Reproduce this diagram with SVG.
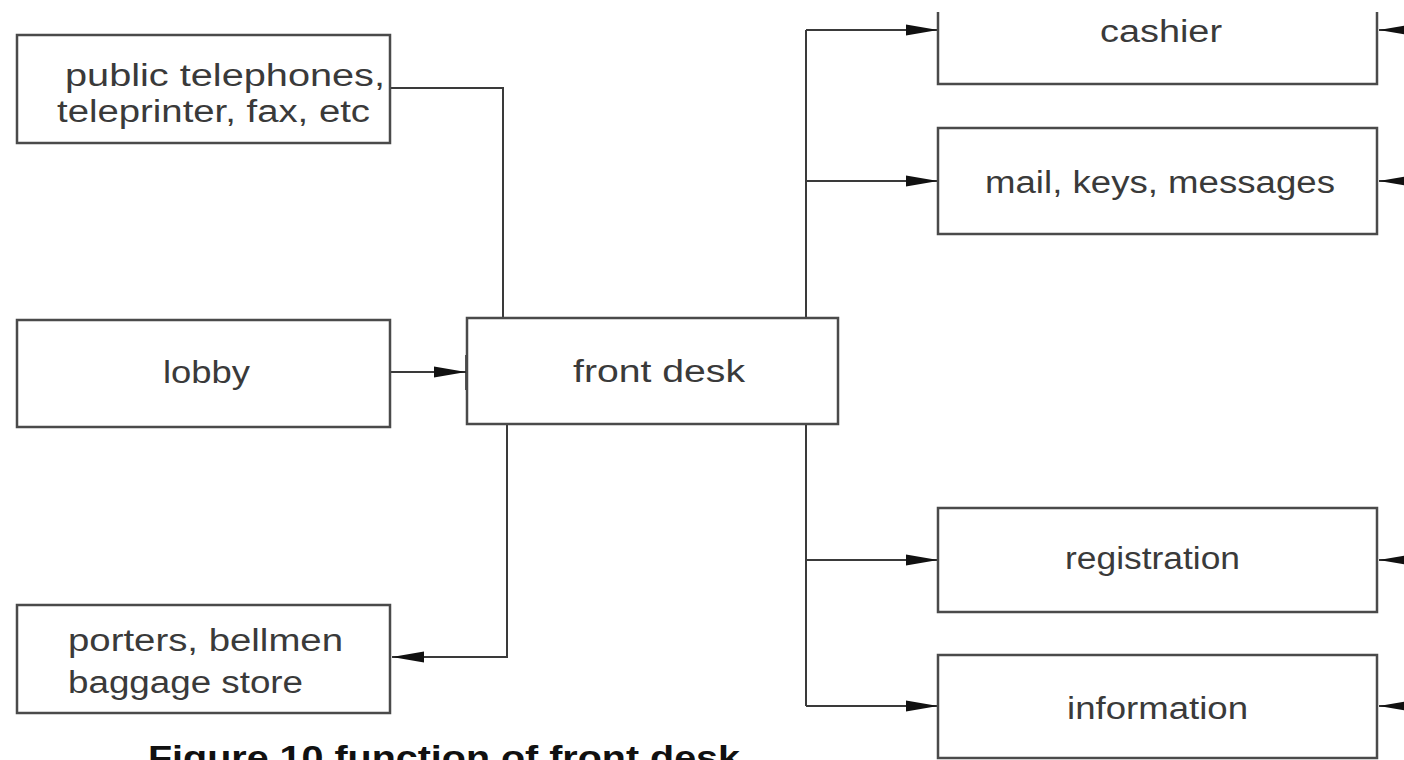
<svg xmlns="http://www.w3.org/2000/svg" width="1404" height="760" viewBox="0 0 1404 760">
<style>
.box{fill:#fff;stroke:#4a4a4a;stroke-width:2.5}
.ln{fill:none;stroke:#3a3a3a;stroke-width:2}
.tick{stroke:#222;stroke-width:3.5}
.t{font-family:"Liberation Sans",Arial,sans-serif;font-size:31px;fill:#3a3a3a}
.cap{font-family:"Liberation Sans",Arial,sans-serif;font-size:33px;font-weight:bold;fill:#111}
</style>
<defs>
<marker id="ah" markerUnits="userSpaceOnUse" markerWidth="32" markerHeight="12" viewBox="0 0 32 12" refX="32" refY="6" orient="auto">
<path d="M0,0.5 L32,6 L0,11.5 Z" fill="#111"/>
</marker>
</defs>
<rect width="1404" height="760" fill="#fff"/>
<g id="connectors">
<polyline class="ln" points="390,88 503,88 503,318"/>
<line class="ln" x1="390" y1="372" x2="466" y2="372" marker-end="url(#ah)"/>
<line class="tick" x1="467" y1="355" x2="467" y2="390"/>
<polyline class="ln" points="507,424 507,657 392,657" marker-end="url(#ah)"/>
<line class="ln" x1="806" y1="30" x2="806" y2="318"/>
<line class="ln" x1="806" y1="424" x2="806" y2="706"/>
<line class="ln" x1="806" y1="30" x2="938" y2="30" marker-end="url(#ah)"/>
<line class="ln" x1="806" y1="181" x2="938" y2="181" marker-end="url(#ah)"/>
<line class="ln" x1="806" y1="560" x2="938" y2="560" marker-end="url(#ah)"/>
<line class="ln" x1="806" y1="706" x2="938" y2="706" marker-end="url(#ah)"/>
<line class="tick" x1="940" y1="532" x2="940" y2="585"/>
<line class="ln" x1="1430" y1="30" x2="1379" y2="30" marker-end="url(#ah)"/>
<line class="ln" x1="1430" y1="181" x2="1379" y2="181" marker-end="url(#ah)"/>
<line class="ln" x1="1430" y1="560" x2="1379" y2="560" marker-end="url(#ah)"/>
<line class="ln" x1="1430" y1="706" x2="1379" y2="706" marker-end="url(#ah)"/>
</g>
<g id="public-telephones">
<rect class="box" x="17" y="35" width="373" height="108"/>
<text class="t" x="65" y="86" textLength="320" lengthAdjust="spacingAndGlyphs">public  telephones,</text>
<text class="t" x="57" y="122" textLength="313" lengthAdjust="spacingAndGlyphs">teleprinter, fax, etc</text>
</g>
<g id="lobby">
<rect class="box" x="17" y="320" width="373" height="107"/>
<text class="t" x="163" y="383" textLength="87" lengthAdjust="spacingAndGlyphs">lobby</text>
</g>
<g id="porters">
<rect class="box" x="17" y="605" width="373" height="108"/>
<text class="t" x="68" y="651" textLength="275" lengthAdjust="spacingAndGlyphs">porters,  bellmen</text>
<text class="t" x="68" y="693" textLength="235" lengthAdjust="spacingAndGlyphs">baggage  store</text>
</g>
<g id="front-desk">
<rect class="box" x="467" y="318" width="371" height="106"/>
<text class="t" x="573" y="382" textLength="172" lengthAdjust="spacingAndGlyphs">front  desk</text>
</g>
<g id="cashier">
<path class="box" d="M938,12 V84 H1377 V12" fill="none"/>
<text class="t" x="1100" y="42" textLength="122" lengthAdjust="spacingAndGlyphs">cashier</text>
</g>
<g id="mail">
<rect class="box" x="938" y="128" width="439" height="106"/>
<text class="t" x="985" y="193" textLength="350" lengthAdjust="spacingAndGlyphs">mail,  keys,  messages</text>
</g>
<g id="registration">
<rect class="box" x="938" y="508" width="439" height="104"/>
<text class="t" x="1065" y="569" textLength="175" lengthAdjust="spacingAndGlyphs">registration</text>
</g>
<g id="information">
<rect class="box" x="938" y="655" width="439" height="103"/>
<text class="t" x="1067" y="719" textLength="181" lengthAdjust="spacingAndGlyphs">information</text>
</g>
<text class="cap" x="148" y="769" textLength="592" lengthAdjust="spacingAndGlyphs">Figure 10 function of front desk</text>
</svg>
